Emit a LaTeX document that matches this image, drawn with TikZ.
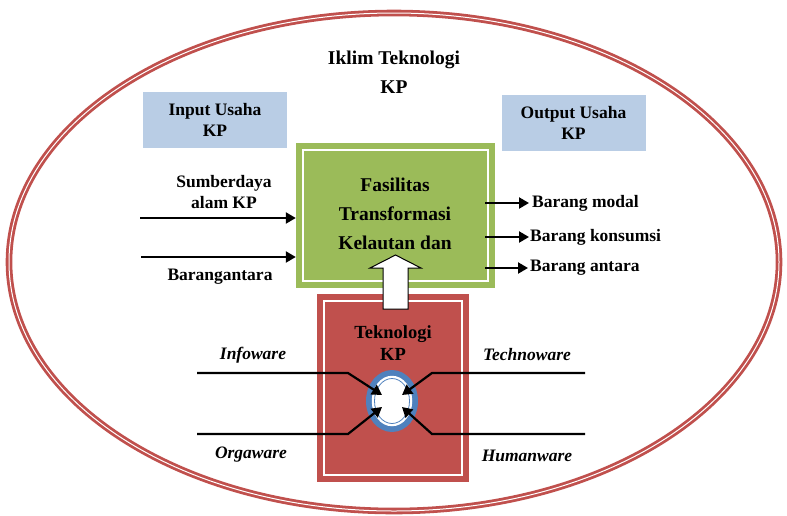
\documentclass[tikz,border=0pt]{standalone}
\usepackage{fontspec}
\setmainfont{Liberation Serif}
\usepackage{tikz}
\usetikzlibrary{arrows, arrows.meta, calc, positioning, shapes.geometric}

\definecolor{merah}{HTML}{C0504D}
\definecolor{hijau}{HTML}{9BBB59}
\definecolor{birumuda}{HTML}{B9CDE5}
\definecolor{biru}{HTML}{4F81BD}

\tikzset{
    teks/.style={font=\bfseries\fontsize{17.5}{21}\selectfont, align=center, inner sep=0pt},
    teksbesar/.style={font=\bfseries\fontsize{19.5}{29}\selectfont, align=center, inner sep=0pt},
    teksmiring/.style={font=\bfseries\itshape\fontsize{17.5}{21}\selectfont, inner sep=0pt},
    kotakbiru/.style={fill=birumuda, minimum width=144pt, minimum height=56pt, inner sep=0pt},
    panah/.style={-{Triangle[length=10pt,width=11pt]}, line width=2.2pt},
    garisputih/.style={draw=white, line width=1.6pt}
}

\begin{document}
\begin{tikzpicture}[x=1pt, y=-1pt]
        \useasboundingbox (0,0) rectangle (787,515);

        % iklim
        \draw[draw=merah, line width=2.8pt, double=white, double distance=1pt] (394,262) ellipse (385 and 249);
        \node[teksbesar] (iklim) at (394,72) {Iklim Teknologi\\KP};

        \node[kotakbiru] (input) at (215,120) {};
        \node[teks] at (input) {Input Usaha\\KP};
        \node[kotakbiru] (output) at (573.5,122.5) {};
        \node[teks] at (output) {Output Usaha\\KP};

        % fasilitas
        \node[fill=hijau, minimum width=199pt, minimum height=145pt] (fasil) at (395.5,215.5) {};
        \draw[garisputih] ([shift={(7,7)}]fasil.north west) rectangle ([shift={(-7,-7)}]fasil.south east);
        \node[teksbesar] (fasilteks) at (395,214) {Fasilitas\\Transformasi\\Kelautan dan};

        % teknologi
        \node[fill=merah, minimum width=152pt, minimum height=188pt] (tek) at (393,388) {};
        \draw[garisputih] ([shift={(7,7)}]tek.north west) rectangle ([shift={(-7,-7)}]tek.south east);
        \node[teks, font=\bfseries\fontsize{18.5}{22}\selectfont] (tekteks) at (393,343) {Teknologi\\KP};

        \draw[fill=white, line width=1pt] (383,309) -- (383,268) -- (370,268) -- (395.5,255) -- (421,268) -- (408,268) -- (408,309) -- cycle;

        \node[ellipse, fill=biru, minimum width=52pt, minimum height=62pt, inner sep=0pt] (cincin) at (392,401) {};
        \draw[fill=white, draw=white, line width=1.5pt] (cincin) ellipse (19.5 and 24.5);
        \draw[draw=biru, line width=0.8pt] (cincin) ellipse (17.5 and 22.5);

        % input
        \node[teks] (sda) at (224,192) {Sumberdaya\\alam KP};
        \node[teks] (antara) at (220,277) {Barangantara};
        \coordinate (sda0) at (140,218);
        \coordinate (antara0) at (141,257);
        \draw[panah] (sda0) -- (sda0 -| fasil.west);
        \draw[panah] (antara0) -- (antara0 -| fasil.west);

        % output
        \node[teks, anchor=west] (modal) at (532,203) {Barang modal};
        \node[teks, anchor=west] (konsumsi) at (530,237) {Barang konsumsi};
        \node[teks, anchor=west] (bantara) at (530,268) {Barang antara};
        \draw[panah, shorten >=3pt] ([xshift=-10pt]fasil.east |- modal) -- (modal.west);
        \draw[panah, shorten >=1pt] ([xshift=-10pt]fasil.east |- konsumsi) -- (konsumsi.west);
        \draw[panah, shorten >=2pt] ([xshift=-10pt]fasil.east |- bantara) -- (bantara.west);

        % komponen
        \node[teksmiring] (info) at (253,355) {Infoware};
        \node[teksmiring] (techno) at (527,355) {Technoware};
        \node[teksmiring] (orga) at (251,455) {Orgaware};
        \node[teksmiring] (human) at (527,456) {Humanware};
        \coordinate (info0) at (197,373);
        \coordinate (techno0) at (585,373);
        \coordinate (orga0) at (197,434);
        \coordinate (human0) at (585,434);
        \draw[panah] (info0) -- (348,373) -- ($(cincin)+(-10,-6)$);
        \draw[panah] (techno0) -- (432,373) -- ($(cincin)+(10,-6)$);
        \draw[panah] (orga0) -- (348,434) -- ($(cincin)+(-10,6)$);
        \draw[panah] (human0) -- (432,434) -- ($(cincin)+(10,6)$);

    \end{tikzpicture}
\end{document}
